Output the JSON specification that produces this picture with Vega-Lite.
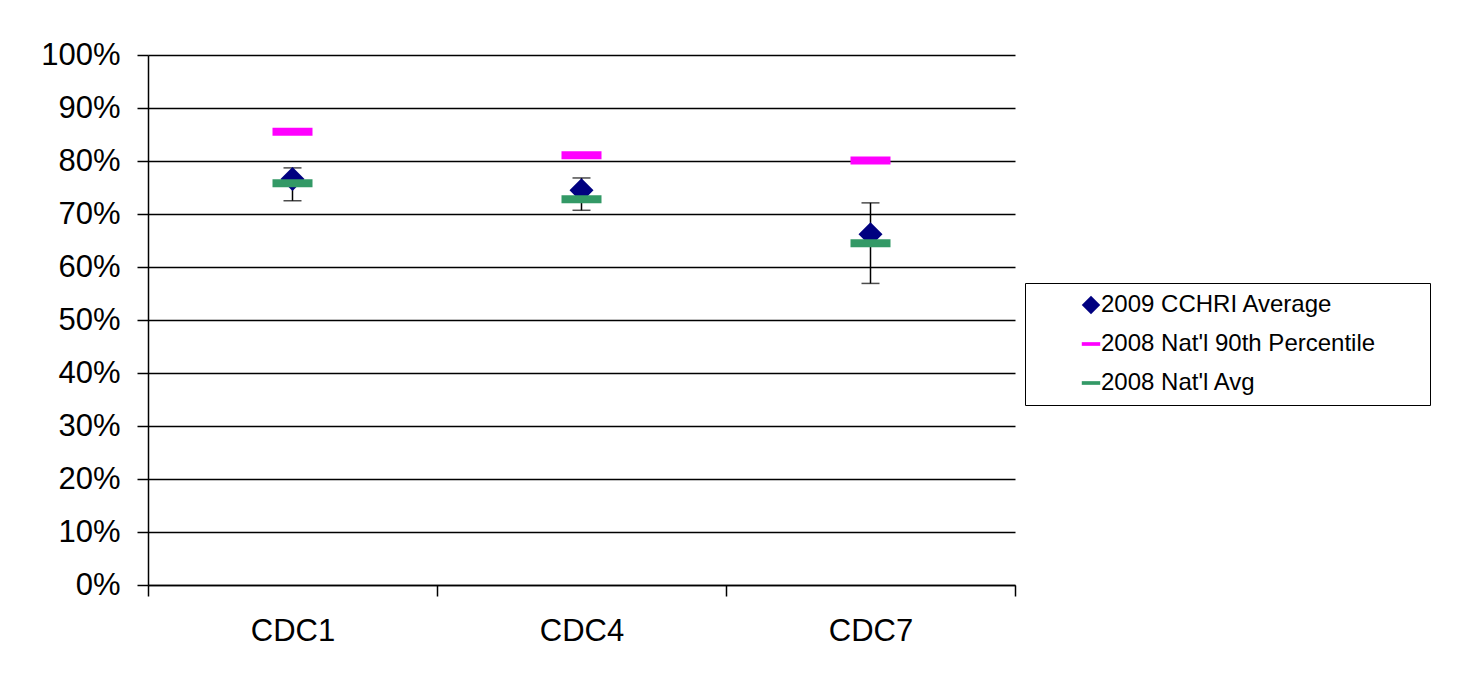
{
  "$schema": "https://vega.github.io/schema/vega-lite/v6.json",
  "width": 867,
  "height": 530,
  "autosize": {"type": "none"},
  "padding": {"left": 148, "top": 55, "right": 444, "bottom": 101},
  "background": "white",
  "config": {
    "view": {"stroke": null},
    "font": "Liberation Sans",
    "axis": {"labelFont": "Liberation Sans", "labelColor": "black", "domainColor": "black", "tickColor": "black"}
  },
  "datasets": {
    "points": [
      {"cat": "CDC1", "series": "2009 CCHRI Average", "value": 0.766},
      {"cat": "CDC4", "series": "2009 CCHRI Average", "value": 0.745},
      {"cat": "CDC7", "series": "2009 CCHRI Average", "value": 0.662},
      {"cat": "CDC1", "series": "2008 Nat'l 90th Percentile", "value": 0.855},
      {"cat": "CDC4", "series": "2008 Nat'l 90th Percentile", "value": 0.811},
      {"cat": "CDC7", "series": "2008 Nat'l 90th Percentile", "value": 0.801},
      {"cat": "CDC1", "series": "2008 Nat'l Avg", "value": 0.758},
      {"cat": "CDC4", "series": "2008 Nat'l Avg", "value": 0.728},
      {"cat": "CDC7", "series": "2008 Nat'l Avg", "value": 0.645}
    ],
    "errors": [
      {"cat": "CDC1", "lo": 0.725, "hi": 0.787},
      {"cat": "CDC4", "lo": 0.707, "hi": 0.768},
      {"cat": "CDC7", "lo": 0.569, "hi": 0.721}
    ]
  },
  "encoding": {
    "x": {
      "field": "cat",
      "type": "nominal",
      "scale": {"domain": ["CDC1", "CDC4", "CDC7"], "paddingInner": 0, "paddingOuter": 0},
      "axis": {
        "title": null,
        "labelAngle": 0,
        "labelFontSize": 31,
        "labelPadding": 20,
        "tickBand": "extent",
        "tickSize": 11,
        "tickWidth": 1.5,
        "domainWidth": 1.5,
        "grid": false
      }
    }
  },
  "layer": [
    {
      "data": {"name": "errors"},
      "mark": {
        "type": "errorbar",
        "color": "black",
        "thickness": 1.5,
        "ticks": {"size": 18}
      },
      "encoding": {
        "y": {
          "field": "lo",
          "type": "quantitative",
          "scale": {"domain": [0, 1]},
          "axis": {
            "title": null,
            "values": [0, 0.1, 0.2, 0.3, 0.4, 0.5, 0.6, 0.7, 0.8, 0.9, 1],
            "format": ".0%",
            "labelFontSize": 31,
            "labelPadding": 17,
            "tickSize": 11,
            "tickWidth": 1.5,
            "domainWidth": 1.5,
            "grid": true,
            "gridColor": "black",
            "gridWidth": 1.5,
            "gridOpacity": 1
          }
        },
        "y2": {"field": "hi"}
      }
    },
    {
      "data": {"name": "points"},
      "transform": [{"filter": "datum.series === '2009 CCHRI Average'"}],
      "mark": {"type": "point", "filled": true, "opacity": 1, "strokeWidth": 0, "size": 576},
      "encoding": {
        "y": {"field": "value", "type": "quantitative"},
        "color": {
          "field": "series",
          "type": "nominal",
          "sort": null,
          "scale": {
            "domain": ["2009 CCHRI Average", "2008 Nat'l 90th Percentile", "2008 Nat'l Avg"],
            "range": ["#000080", "#FF00FF", "#339966"]
          },
          "legend": {
            "title": " ",
            "titleOrient": "right",
            "titlePadding": 45,
            "titleFontSize": 10,
            "orient": "none",
            "legendX": 877,
            "legendY": 228,
            "strokeColor": "black",
            "fillColor": "white",
            "padding": 10,
            "symbolOffset": 44,
            "symbolSize": 340,
            "labelFontSize": 24,
            "labelFont": "Liberation Sans",
            "labelColor": "black",
            "labelOffset": -2,
            "rowPadding": 15,
            "labelLimit": 0
          }
        },
        "shape": {
          "field": "series",
          "type": "nominal",
          "scale": {
            "domain": ["2009 CCHRI Average", "2008 Nat'l 90th Percentile", "2008 Nat'l Avg"],
            "range": ["diamond", "M-1,-0.2H1V0.2H-1Z", "M-1,-0.2H1V0.2H-1Z"]
          }
        }
      }
    },
    {
      "data": {"name": "points"},
      "transform": [{"filter": "datum.series !== '2009 CCHRI Average'"}],
      "mark": {"type": "point", "filled": true, "opacity": 1, "strokeWidth": 0, "size": 1600},
      "encoding": {
        "y": {"field": "value", "type": "quantitative"},
        "color": {"field": "series", "type": "nominal", "sort": null},
        "shape": {"field": "series", "type": "nominal"}
      }
    }
  ]
}
